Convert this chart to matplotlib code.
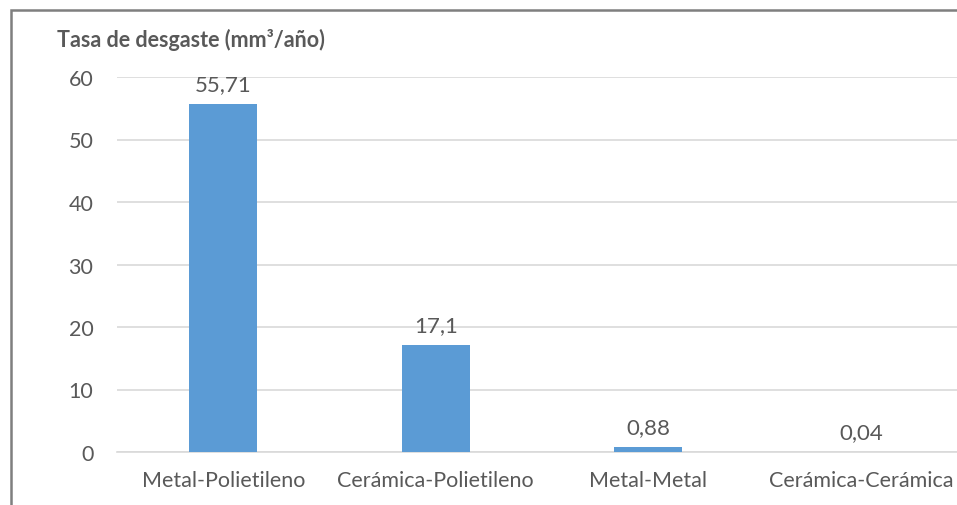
import matplotlib.pyplot as plt
from matplotlib.patches import Rectangle

categorias = ["Metal-Polietileno", "Cerámica-Polietileno", "Metal-Metal", "Cerámica-Cerámica"]
tasas = [55.71, 17.1, 0.88, 0.04]
etiquetas = ["55,71", "17,1", "0,88", "0,04"]

plt.rcParams['font.family'] = ['Lato', 'DejaVu Sans']
texto = '#595959'

fig = plt.figure(figsize=(9.57, 5.06), dpi=100)

# plot area spans slightly past the right edge of the image
ax = fig.add_axes([117 / 957, 1 - 453 / 506, 850 / 957, (453 - 78) / 506])

x = range(len(categorias))
barras = ax.bar(x, tasas, width=0.32, color='#5B9BD5', zorder=3)
for b, etq in zip(barras, etiquetas):
    ax.annotate(etq, (b.get_x() + b.get_width() / 2, b.get_height()),
                xytext=(0, 7), textcoords='offset points',
                ha='center', va='bottom', fontsize=16, color=texto)

ax.set_xlim(-0.5, 3.5)
ax.set_ylim(0, 60)
ax.set_yticks(range(0, 61, 10))
ax.set_xticks(list(x))
ax.set_xticklabels(categorias)
ax.tick_params(axis='both', length=0, labelsize=15.5, labelcolor=texto)
ax.tick_params(axis='y', pad=17)
ax.tick_params(axis='x', pad=13)
ax.grid(axis='y', color='#D9D9D9', linewidth=1.2, zorder=0)
for lado in ['top', 'right', 'left']:
    ax.spines[lado].set_visible(False)
ax.spines['bottom'].set_color('#D9D9D9')
ax.spines['bottom'].set_linewidth(1.2)

fig.text(57 / 957, 1 - 40 / 506, "Tasa de desgaste (mm³/año)", fontsize=15.5,
         fontweight='bold', color=texto, va='center', ha='left')

# chart border; right and bottom edges run off the image
borde = Rectangle((10.5 / 957, -0.1), 1.0, 1.1 - 10.5 / 506, fill=False,
                  edgecolor='#7F7F7F', linewidth=1.8, transform=fig.transFigure,
                  zorder=10)
fig.patches.append(borde)

fig.savefig('out.png', dpi=100, facecolor='white')
